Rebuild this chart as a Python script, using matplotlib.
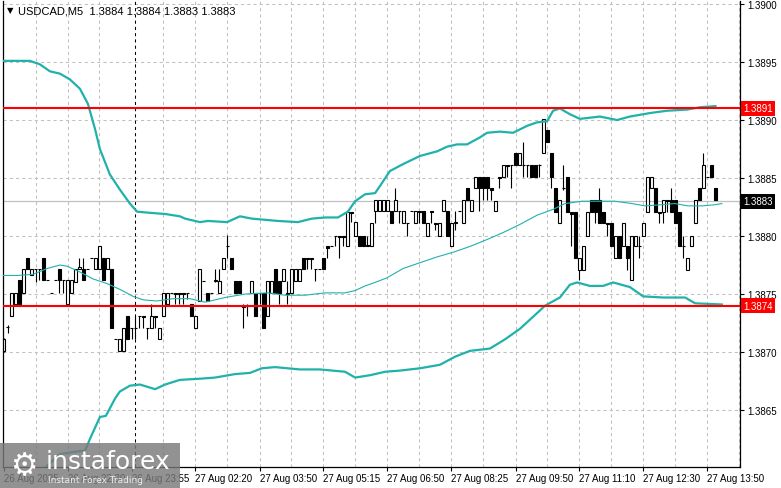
"""USDCAD M5 candlestick chart with Bollinger bands and two red levels (MT4 style)."""

import matplotlib

matplotlib.use("Agg")
import matplotlib.pyplot as plt
import numpy as np
from matplotlib.patches import Rectangle

# prices are stored as pips above 1.3800
BASE = 1.38
PIP = 0.0001

OPEN_PIPS = [
    70.1, 72.2, 73.1, 74.1, 76.2, 75.1, 78.1, 76.6, 77.2, 77.2,
    78.1, 76.2, 75.1, 76.2, 77.2, 76.2, 74.1, 75.1, 76.0, 77.2,
    77.2, 77.2, 78.1, 77.2, 77.2, 78.1, 77.2, 77.2, 71.1, 70.1,
    70.1, 73.1, 72.1, 72.1, 73.1, 73.1, 72.1, 72.1, 73.1, 71.1,
    73.1, 74.1, 75.1, 75.1, 75.1, 75.1, 75.1, 74.1, 72.1, 74.4,
    76.1, 75.1, 75.1, 76.1, 75.1, 77.2, 79.1, 78.1, 76.1, 76.1,
    74.0, 74.0, 75.1, 75.1, 75.1, 75.1, 73.1, 75.1, 77.2, 76.1,
    76.1, 75.0, 75.1, 76.1, 76.1, 78.1, 78.1, 78.1, 77.2, 77.2,
    78.1, 79.1, 79.1, 80.0, 80.0, 80.0, 79.1, 82.1, 80.0, 80.0,
    80.0, 79.1, 79.1, 82.2, 82.2, 82.2, 82.2, 82.2, 82.2, 82.2,
    81.1, 81.1, 82.2, 81.1, 82.2, 82.2, 80.0, 82.2, 81.1, 80.0,
    82.2, 82.2, 79.1, 81.1, 82.2, 81.1, 84.1, 82.2, 84.1, 85.1,
    85.1, 85.1, 84.1, 82.2, 85.1, 85.1, 86.1, 86.1, 87.2, 86.1,
    86.1, 86.1, 86.1, 86.1, 86.1, 87.2, 89.1, 87.2, 84.1, 81.1,
    84.1, 85.1, 82.1, 82.1, 77.1, 77.1, 80.0, 83.1, 83.1, 83.1,
    82.1, 81.1, 81.1, 78.1, 80.0, 79.1, 79.1, 76.2, 79.1, 79.1,
    80.0, 82.1, 84.1, 84.1, 82.1, 82.1, 83.1, 83.1, 83.1, 82.1,
    79.1, 77.1, 79.1, 81.1, 84.1, 84.1, 85.1, 86.1, 84.1,
]
HIGH_PIPS = [
    71.2, 72.3, 75.1, 75.1, 76.2, 77.2, 78.1, 77.2, 77.2, 77.2,
    78.1, 76.2, 75.1, 76.2, 77.2, 76.2, 76.2, 76.2, 77.2, 78.1,
    78.1, 77.2, 78.1, 78.1, 79.1, 78.1, 78.1, 77.2, 71.1, 71.1,
    72.1, 73.1, 72.1, 73.1, 73.1, 73.1, 72.1, 74.1, 73.1, 72.1,
    75.1, 75.1, 75.1, 75.1, 75.1, 75.1, 75.1, 74.1, 73.1, 77.2,
    76.1, 75.1, 75.1, 77.2, 77.2, 78.1, 80.1, 78.1, 76.1, 76.1,
    74.1, 74.1, 76.1, 75.1, 75.1, 75.1, 76.1, 76.1, 77.2, 76.1,
    77.2, 76.1, 77.2, 77.2, 77.2, 78.1, 78.1, 78.1, 77.2, 77.2,
    78.1, 79.1, 79.1, 80.0, 80.0, 80.0, 82.1, 82.1, 81.2, 80.0,
    80.0, 80.0, 81.1, 83.1, 83.1, 83.1, 83.1, 82.2, 84.1, 82.2,
    82.2, 81.1, 82.2, 82.2, 82.2, 82.2, 81.1, 82.2, 81.1, 81.1,
    83.1, 82.2, 81.1, 82.2, 82.2, 83.1, 84.1, 83.1, 85.1, 85.1,
    85.1, 85.1, 84.1, 83.0, 85.1, 86.1, 86.1, 86.1, 87.2, 87.2,
    88.1, 86.1, 86.1, 86.1, 86.2, 90.1, 89.1, 87.2, 84.1, 83.1,
    86.1, 85.1, 82.1, 82.1, 78.1, 79.1, 82.1, 83.1, 83.1, 84.1,
    82.1, 81.1, 81.1, 80.0, 80.0, 81.1, 79.1, 80.0, 80.0, 80.0,
    81.1, 85.1, 85.1, 84.1, 82.1, 83.1, 83.1, 84.1, 83.1, 82.1,
    80.0, 78.1, 80.0, 83.1, 84.1, 87.2, 85.1, 86.1, 84.1,
]
LOW_PIPS = [
    70.0, 71.6, 73.1, 74.1, 74.1, 75.1, 77.2, 76.6, 76.0, 76.2,
    76.2, 76.2, 75.1, 76.2, 75.1, 75.1, 74.1, 75.1, 76.0, 77.2,
    76.2, 77.2, 78.1, 77.2, 77.2, 76.2, 77.2, 72.1, 71.1, 70.1,
    70.1, 71.1, 71.1, 71.1, 72.1, 72.1, 71.1, 72.1, 72.1, 71.1,
    73.1, 74.1, 75.1, 74.1, 74.1, 74.1, 74.6, 73.1, 72.1, 74.4,
    76.1, 74.4, 75.1, 76.0, 75.1, 77.2, 78.1, 77.2, 75.1, 75.1,
    72.1, 73.1, 75.1, 73.1, 74.1, 72.1, 73.1, 75.1, 75.1, 74.1,
    76.1, 74.1, 75.1, 76.1, 76.1, 77.2, 77.2, 77.2, 76.1, 77.2,
    77.2, 78.1, 79.1, 79.1, 78.1, 79.1, 79.1, 81.2, 80.0, 79.1,
    79.1, 79.1, 79.1, 81.1, 82.2, 82.2, 82.2, 81.1, 82.2, 81.1,
    81.1, 80.0, 82.2, 81.1, 81.1, 81.1, 80.0, 81.1, 80.5, 80.0,
    82.2, 80.0, 79.1, 80.5, 82.2, 81.1, 83.1, 82.2, 84.1, 82.2,
    83.1, 83.1, 83.1, 82.2, 84.1, 85.1, 85.1, 84.1, 86.1, 86.1,
    85.1, 85.1, 85.1, 85.1, 85.1, 87.2, 88.1, 84.1, 82.1, 81.1,
    84.0, 82.1, 79.1, 78.1, 76.2, 77.1, 80.0, 82.1, 81.1, 81.1,
    81.1, 80.0, 79.1, 78.1, 78.1, 79.1, 77.1, 76.2, 79.1, 78.1,
    80.0, 82.1, 84.1, 82.1, 81.1, 81.1, 82.1, 82.1, 81.1, 79.1,
    78.1, 77.1, 79.1, 81.1, 83.1, 84.1, 85.1, 85.1, 83.1,
]
CLOSE_PIPS = [
    71.1, 72.2, 75.1, 75.1, 74.1, 77.2, 77.2, 77.2, 77.2, 77.2,
    76.2, 76.2, 75.1, 76.2, 76.2, 76.2, 76.2, 76.2, 77.2, 77.3,
    76.2, 77.2, 78.1, 78.1, 79.1, 76.2, 78.1, 72.1, 71.1, 71.1,
    72.1, 71.1, 72.1, 72.1, 73.1, 73.0, 72.1, 73.1, 73.0, 72.1,
    75.1, 75.1, 75.1, 75.0, 75.0, 75.0, 75.1, 73.1, 73.1, 77.2,
    76.1, 74.4, 75.1, 76.2, 76.1, 78.1, 79.1, 77.2, 75.1, 75.1,
    73.9, 74.0, 76.1, 73.1, 75.1, 72.1, 76.1, 76.1, 75.1, 75.1,
    77.2, 75.1, 77.2, 77.2, 77.2, 77.2, 78.0, 78.0, 77.2, 77.2,
    77.2, 79.0, 79.1, 80.0, 79.9, 79.9, 82.1, 82.0, 81.2, 79.1,
    79.1, 79.2, 81.1, 83.1, 83.1, 83.1, 83.1, 81.1, 83.1, 82.2,
    82.2, 81.1, 82.2, 82.2, 82.1, 81.1, 81.1, 82.1, 81.0, 81.1,
    83.1, 80.0, 81.1, 81.2, 82.2, 83.1, 83.1, 83.1, 85.1, 84.1,
    84.1, 84.1, 84.0, 83.0, 85.0, 86.1, 86.0, 86.1, 86.1, 87.2,
    86.1, 86.1, 85.1, 85.1, 86.1, 90.1, 88.1, 85.1, 82.1, 83.1,
    84.1, 82.1, 81.9, 78.1, 78.1, 79.1, 82.1, 82.1, 82.1, 81.1,
    81.1, 81.0, 79.1, 80.0, 78.1, 81.1, 78.1, 80.0, 80.0, 79.1,
    81.1, 85.1, 85.1, 82.1, 82.0, 83.1, 83.0, 82.1, 81.1, 79.1,
    79.1, 78.1, 80.0, 83.1, 83.1, 86.1, 85.1, 85.1, 83.1,
]

# Bollinger bands: bar number and pips
UPPER_BAR = [-1, 6.6, 9.1, 11.6, 14.1, 16.6, 19.1, 21.1, 22.9, 24.1, 26.6, 29.1, 31.6,
             33.4, 36.6, 40.4, 44.1, 45.4, 49.1, 51.1, 55.9, 59.1, 62.1, 68.6, 73.6,
             77.1, 80.4, 83.6, 86.1, 87.9, 90.4, 92.9, 94.1, 96.6, 99.9, 104.1, 108.4,
             110.9, 113.4, 115.9, 119.1, 120.9, 124.1, 127.4, 130.9, 133.4, 135.9,
             137.4, 139.1, 141.6, 144.1, 149.1, 153.4, 156.6, 161.6, 165.9, 170.9,
             174.1, 178.0]
UPPER_PIPS = [95.1, 95.1, 94.8, 94.2, 94.0, 93.5, 92.7, 91.4, 89.2, 87.5, 85.3, 84.0, 82.8,
              82.1, 82.0, 81.9, 81.7, 81.5, 81.2, 81.3, 81.2, 81.7, 81.5, 81.3, 81.2,
              81.5, 81.6, 81.6, 82.1, 83.0, 83.6, 83.7, 84.3, 85.6, 86.2, 86.9, 87.3,
              87.7, 87.9, 87.9, 88.5, 88.9, 89.0, 88.9, 89.5, 89.8, 89.9,
              90.8, 91.0, 90.5, 90.1, 90.3, 90.0, 90.3, 90.6, 90.8, 90.9,
              91.1, 91.2]

MIDDLE_BAR = [-1, 3.4, 7.4, 10.9, 14.1, 15.9, 19.1, 22.4, 25.9, 29.1, 32.4, 34.9, 38.4,
              42.4, 46.6, 50.4, 55.4, 60.4, 66.1, 70.4, 75.4, 80.4, 85.4, 87.9, 90.4,
              92.9, 95.9, 99.9, 104.1, 108.4, 112.4, 116.6, 120.9, 124.9, 129.1, 133.4,
              137.4, 140.4, 144.6, 150.4, 152.9, 157.1, 160.4, 164.6, 167.9, 171.1,
              174.6, 177.9, 179.6]
MIDDLE_PIPS = [76.6, 76.6, 76.7, 77.2, 77.5, 77.4, 76.9, 76.3, 75.9, 75.4, 74.8, 74.5, 74.4,
               74.6, 74.6, 74.3, 74.7, 75.0, 75.1, 74.9, 74.9, 75.1, 75.1, 75.3, 75.7,
               76.0, 76.4, 77.2, 77.7, 78.2, 78.6, 79.1, 79.7, 80.3, 81.0, 81.8,
               82.3, 82.8, 83.0, 83.0, 83.0, 82.8, 82.6, 82.7, 82.8, 82.6,
               82.6, 82.7, 82.8]

LOWER_BAR = [9.1, 10.9, 14.1, 17.9, 20.4, 21.6, 24.1, 25.6, 27.9, 29.1, 31.6, 34.1, 37.9,
             40.4, 44.1, 49.1, 52.9, 57.9, 61.6, 64.6, 67.9, 74.1, 79.1, 85.4, 87.9,
             91.6, 95.4, 99.1, 104.1, 109.1, 112.9, 116.6, 121.6, 125.4, 129.1, 132.9,
             135.4, 139.1, 141.6, 143.4, 146.6, 149.9, 152.4, 156.6, 159.9, 164.9,
             170.4, 172.9, 179.6]
LOWER_PIPS = [59.5, 60.2, 61.2, 61.4, 61.5, 62.5, 64.4, 64.5, 66.0, 66.6, 67.1, 67.2, 66.8,
              67.2, 67.6, 67.7, 67.8, 68.1, 68.2, 68.6, 68.7, 68.5, 68.5, 68.3, 67.8,
              68.0, 68.3, 68.4, 68.6, 68.9, 69.6, 70.1, 70.3, 71.1, 72.0, 73.2,
              74.0, 74.7, 75.8, 76.0, 75.7, 75.7, 76.0, 75.6, 74.8, 74.7,
              74.7, 74.2, 74.1]

RESISTANCE = 1.3891
SUPPORT = 1.3874
BID = 1.3883
Y_TICKS = [1.3865, 1.3870, 1.3875, 1.3880, 1.3885, 1.3890, 1.3895, 1.3900]

X_TICK_BARS = [0, 16, 32, 48, 64, 80, 96, 112, 128, 144, 160, 176]
X_TICK_LABELS = ["26 Aug 2025", "26 Aug 22:30", "26 Aug 23:55", "27 Aug 02:20",
                 "27 Aug 03:50", "27 Aug 05:15", "27 Aug 06:50", "27 Aug 08:25",
                 "27 Aug 09:50", "27 Aug 11:10", "27 Aug 12:30", "27 Aug 13:50"]
DAY_BREAK_BAR = 33

HEADER = "USDCAD,M5  1.3884 1.3884 1.3883 1.3883"

BAND_COLOR = "#20b2aa"
GRID_COLOR = "#c0c0c0"
FONT = "Liberation Sans"


def to_price(pips):
    return BASE + np.asarray(pips, dtype=float) * PIP


def main():
    opens = to_price(OPEN_PIPS)
    highs = to_price(HIGH_PIPS)
    lows = to_price(LOW_PIPS)
    closes = to_price(CLOSE_PIPS)
    bars = np.arange(len(opens))

    W, H = 781, 489
    fig = plt.figure(figsize=(W / 100, H / 100), dpi=100)
    fig.patch.set_facecolor("white")
    # plot frame: x 3..740 px, y 2..468 px
    ax = fig.add_axes([3 / W, (H - 468) / H, 737 / W, 466 / H])
    ax.set_facecolor("white")

    ax.set_xlim(-0.125, 184.125)
    ax.set_ylim(1.386009, 1.390026)

    # grid
    for b in range(8, 185, 8):
        if b == 32:
            continue
        ax.axvline(b, color=GRID_COLOR, lw=0.75, ls=(0, (3, 3)), zorder=0.5)
    for y in Y_TICKS:
        ax.axhline(y, color=GRID_COLOR, lw=0.75, ls=(0, (3, 3)), zorder=0.5)
    ax.axvline(DAY_BREAK_BAR, color="black", lw=0.75, ls=(0, (3, 3)), zorder=0.6)

    # bid line
    ax.axhline(BID, color=GRID_COLOR, lw=0.9, zorder=0.8)

    # candles
    ax.vlines(bars, lows, highs, color="black", lw=0.8, zorder=2)
    bottoms = np.minimum(opens, closes)
    heights = np.abs(closes - opens)
    faces = ["white" if c >= o else "black" for o, c in zip(opens, closes)]
    ax.bar(bars, heights, bottom=bottoms, width=0.55, color=faces,
           edgecolor="black", linewidth=0.8, zorder=2.2)

    # bollinger bands
    ax.plot(UPPER_BAR, to_price(UPPER_PIPS), color=BAND_COLOR, lw=1.6, zorder=3)
    ax.plot(MIDDLE_BAR, to_price(MIDDLE_PIPS), color=BAND_COLOR, lw=0.8, zorder=3)
    ax.plot(LOWER_BAR, to_price(LOWER_PIPS), color=BAND_COLOR, lw=1.6, zorder=3)

    # levels
    ax.axhline(RESISTANCE, color="#ff0000", lw=1.5, zorder=4)
    ax.axhline(SUPPORT, color="#ff0000", lw=1.5, zorder=4)

    # axes styling
    for side in ("left", "bottom", "right"):
        ax.spines[side].set_color("black")
        ax.spines[side].set_linewidth(0.9)
    ax.spines["top"].set_visible(False)

    ax.yaxis.tick_right()
    ax.set_yticks(Y_TICKS)
    ax.set_yticklabels([f"{v:.4f}" for v in Y_TICKS])
    ax.set_xticks(X_TICK_BARS)
    ax.set_xticklabels(X_TICK_LABELS)
    ax.tick_params(axis="y", length=3, width=0.8, pad=2, labelsize=7, colors="black")
    ax.tick_params(axis="x", length=3, width=0.8, pad=1.5, labelsize=7, colors="black")
    for lab in ax.get_xticklabels():
        lab.set_horizontalalignment("left")
        lab.set_fontfamily(FONT)
    for lab in ax.get_yticklabels():
        lab.set_fontfamily(FONT)

    # price tags on the right scale
    ytrans = ax.get_yaxis_transform()
    for price, face in ((RESISTANCE, "#ff0000"), (SUPPORT, "#ff0000"), (BID, "black")):
        ax.text(1.0 + 3 / 737, price, f"{price:.4f}", transform=ytrans, ha="left",
                va="center", color="white", fontsize=7, family=FONT, clip_on=False,
                zorder=6, bbox=dict(boxstyle="square,pad=0.25", fc=face, ec="none"))

    # header
    fig.text(7 / W, 1 - 11 / H, "\u25bc", fontsize=6, va="center", ha="left",
             family="DejaVu Sans", color="black")
    fig.text(18 / W, 1 - 11 / H, HEADER, fontsize=8, va="center", ha="left",
             family=FONT, color="black")

    # watermark
    fig.add_artist(Rectangle((0, 0), 180 / W, 45 / H, transform=fig.transFigure,
                             facecolor="#7a7a7a", alpha=0.82, edgecolor="none", zorder=10))
    fig.text(24 / W, 22 / H, "\u2699", fontsize=22, color="white", ha="center",
             va="center", family="DejaVu Sans", zorder=11)
    fig.text(46 / W, 27 / H, "instaforex", fontsize=18, color="white", ha="left",
             va="center", family="DejaVu Sans", zorder=11)
    fig.text(48 / W, 8 / H, "Instant Forex Trading", fontsize=6.5, color="#eeeeee",
             ha="left", va="center", family="DejaVu Sans", zorder=11)

    fig.savefig("out.png", dpi=100, facecolor="white")
    plt.close(fig)


if __name__ == "__main__":
    main()
